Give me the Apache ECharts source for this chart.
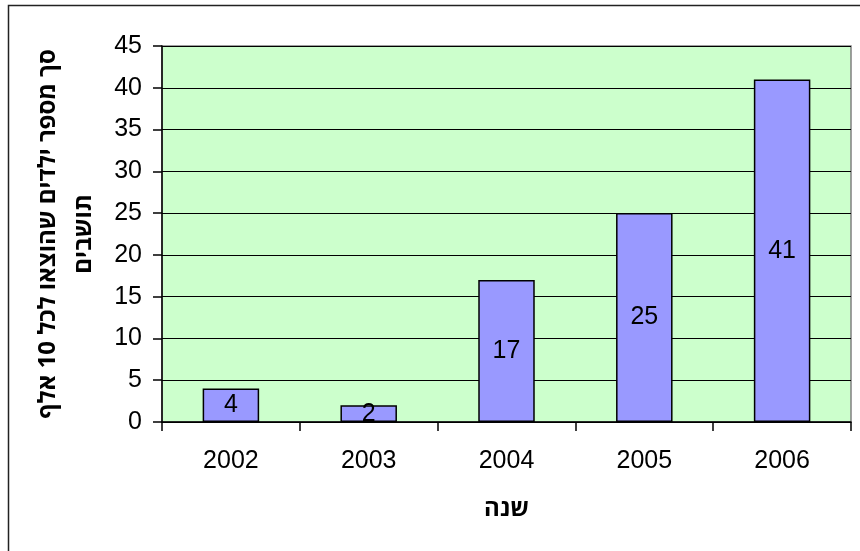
<!DOCTYPE html>
<html><head><meta charset="utf-8">
<script src="https://cdn.jsdelivr.net/npm/echarts@6/dist/echarts.min.js"></script>
<style>html,body{margin:0;padding:0;background:#fff}#c{width:860px;height:551px}</style>
</head><body><div id="c"></div>
<script>
const categories = ['2002','2003','2004','2005','2006'];
const values = [4, 2, 17, 25, 41];
const yTicks = {min: 0, max: 45, interval: 5};
const yTitle = 'סך מספר ילדים שהוצאו לכל 10 אלף\nתושבים';
const xTitle = 'שנה';

const chart = echarts.init(document.getElementById('c'), null, {renderer: 'canvas'});
const font = 'Liberation Sans, Arial, sans-serif';
const hfont = '"Open Sans", "Liberation Sans", sans-serif';
chart.setOption({
  animation: false,
  backgroundColor: '#fff',
  graphic: [{
    type: 'rect', shape: {x: 8.5, y: 5.5, width: 900, height: 600},
    style: {fill: 'none', stroke: '#222', lineWidth: 1.5}, silent: true, z: 100
  }],
  grid: {left: 162, top: 46, right: 9, bottom: 129, show: true,
    backgroundColor: '#CCFFCC', borderColor: '#808080', borderWidth: 1.5},
  xAxis: {
    type: 'category', data: categories,
    name: xTitle, nameLocation: 'middle', nameGap: 75,
    nameTextStyle: {fontFamily: hfont, fontWeight: 'bold', fontSize: 24, color: '#000'},
    axisLine: {lineStyle: {color: '#000', width: 1.5}},
    axisTick: {show: true, inside: false, length: 9, alignWithLabel: false, lineStyle: {color: '#000', width: 1.5}},
    axisLabel: {fontFamily: font, fontSize: 25, color: '#000', margin: 27},
    splitLine: {show: false}
  },
  yAxis: {
    type: 'value', min: yTicks.min, max: yTicks.max, interval: yTicks.interval,
    name: yTitle, nameLocation: 'middle', nameGap: 60, nameRotate: 90,
    nameTextStyle: {fontFamily: hfont, fontWeight: 'bold', fontSize: 24, color: '#000', lineHeight: 36},
    axisLine: {show: true, lineStyle: {color: '#000', width: 1.5}},
    axisTick: {show: true, inside: false, length: 9, lineStyle: {color: '#000', width: 1.5}},
    axisLabel: {fontFamily: font, fontSize: 25, color: '#000', margin: 20},
    splitLine: {show: true, lineStyle: {color: '#000', width: 1.2}}
  },
  series: [{
    type: 'bar', data: values, barWidth: '41%',
    itemStyle: {color: '#9999FF', borderColor: '#000', borderWidth: 1.5},
    label: {show: true, position: 'inside', fontFamily: font, fontSize: 25, color: '#000'}
  }]
});
</script></body></html>
